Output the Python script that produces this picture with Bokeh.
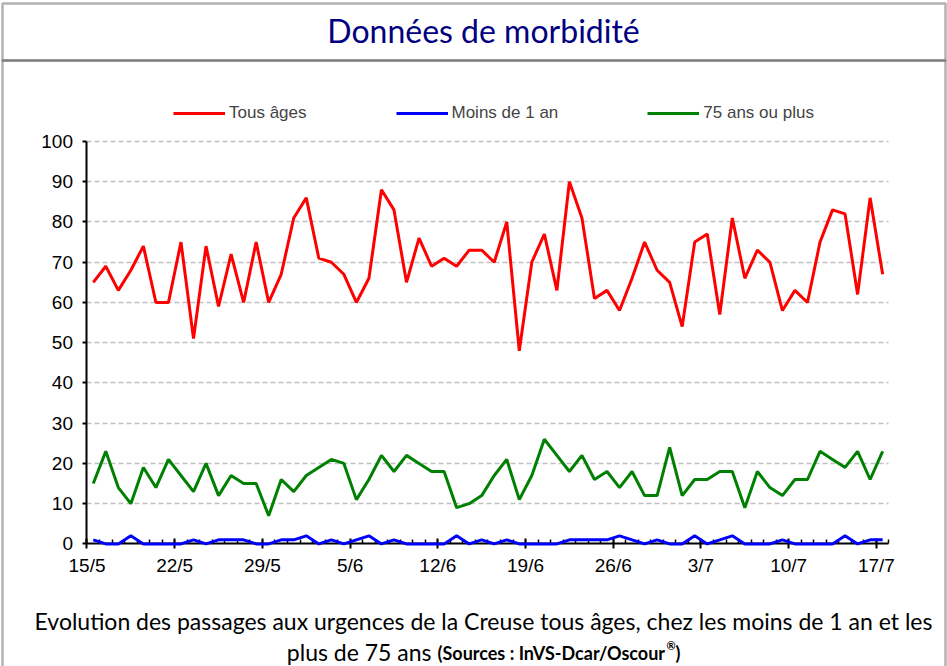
from bokeh.plotting import figure
from bokeh.embed import file_html
from bokeh.resources import INLINE
from bokeh.models import Range1d, FixedTicker, Legend, LegendItem, Label, BoxAnnotation

# ---- data (daily counts, 15/5 .. 17/7) ----
tous_ages = [65, 69, 63, 68, 74, 60, 60, 75, 51, 74, 59, 72, 60, 75, 60, 67,
             81, 86, 71, 70, 67, 60, 66, 88, 83, 65, 76, 69, 71, 69, 73, 73,
             70, 80, 48, 70, 77, 63, 90, 81, 61, 63, 58, 66, 75, 68, 65, 54,
             75, 77, 57, 81, 66, 73, 70, 58, 63, 60, 75, 83, 82, 62, 86, 67]
moins_1_an = [1, 0, 0, 2, 0, 0, 0, 0, 1, 0, 1, 1, 1, 0, 0, 1,
              1, 2, 0, 1, 0, 1, 2, 0, 1, 0, 0, 0, 0, 2, 0, 1,
              0, 1, 0, 0, 0, 0, 1, 1, 1, 1, 2, 1, 0, 1, 0, 0,
              2, 0, 1, 2, 0, 0, 0, 1, 0, 0, 0, 0, 2, 0, 1, 1]
plus_75_ans = [15, 23, 14, 10, 19, 14, 21, 17, 13, 20, 12, 17, 15, 15, 7, 16,
               13, 17, 19, 21, 20, 11, 16, 22, 18, 22, 20, 18, 18, 9, 10, 12,
               17, 21, 11, 17, 26, 22, 18, 22, 16, 18, 14, 18, 12, 12, 24, 12,
               16, 16, 18, 18, 9, 18, 14, 12, 16, 16, 23, 21, 19, 23, 16, 23]
tick_days = [0, 7, 14, 21, 28, 35, 42, 49, 56, 63]
tick_labels = ["15/5", "22/5", "29/5", "5/6", "12/6", "19/6", "26/6", "3/7", "10/7", "17/7"]
y_ticks = [0, 10, 20, 30, 40, 50, 60, 70, 80, 90, 100]
series_names = ["Tous âges", "Moins de 1 an", "75 ans ou plus"]

n = len(tous_ages)
xs = [i + 0.5 for i in range(n)]

W, H = 947, 666
# the frame covers the whole canvas; axes sit at fixed locations inside it
p = figure(width=W, height=H, output_backend="svg", toolbar_location=None,
           x_range=Range1d(-6.903, 68.675), y_range=Range1d(-30.47, 135.04),
           min_border=0, title=None)
p.outline_line_color = None
p.background_fill_color = "white"
p.border_fill_color = "white"

r1 = p.line(xs, tous_ages, line_color="#FF0000", line_width=3)
r2 = p.line(xs, moins_1_an, line_color="#0000FF", line_width=3)
r3 = p.line(xs, plus_75_ans, line_color="#008000", line_width=3)

# y axis
p.yaxis.fixed_location = 0
p.yaxis.bounds = (0, 100)
p.yaxis.ticker = FixedTicker(ticks=y_ticks)
p.yaxis.axis_line_width = 2
p.yaxis.axis_line_color = "black"
p.yaxis.major_tick_out = 4
p.yaxis.major_tick_in = 0
p.yaxis.major_tick_line_width = 2
p.yaxis.minor_tick_line_color = None
p.yaxis.major_label_text_font = "Liberation Sans"
p.yaxis.major_label_text_font_size = "19px"
p.yaxis.major_label_text_color = "black"
p.yaxis.major_label_standoff = 10

# x axis (drawn beneath the data lines, as in the original)
p.xaxis.fixed_location = 0
p.xaxis.bounds = (0, 64)
p.xaxis.level = "underlay"
p.xaxis.ticker = FixedTicker(ticks=tick_days, minor_ticks=list(range(0, 65)))
p.xaxis.major_label_overrides = {d: l for d, l in zip(tick_days, tick_labels)}
p.xaxis.axis_line_width = 2
p.xaxis.axis_line_color = "black"
p.xaxis.major_tick_out = 5
p.xaxis.major_tick_in = 5
p.xaxis.major_tick_line_width = 2
p.xaxis.minor_tick_in = 4
p.xaxis.minor_tick_out = 0
p.xaxis.minor_tick_line_width = 1.5
p.xaxis.minor_tick_line_color = "black"
p.xaxis.major_label_text_font = "Liberation Sans"
p.xaxis.major_label_text_font_size = "19px"
p.xaxis.major_label_text_color = "black"
p.xaxis.major_label_standoff = 6

p.xgrid.visible = False
p.ygrid.ticker = FixedTicker(ticks=y_ticks[1:])
p.ygrid.cross_bounds = (0, 64)
p.ygrid.grid_line_color = "#C0C0C0"
p.ygrid.grid_line_dash = "5 3"
p.ygrid.grid_line_width = 1.5

# legend (location = bottom-left corner, measured from the canvas bottom)
legend = Legend(items=[LegendItem(label=series_names[0], renderers=[r1]),
                       LegendItem(label=series_names[1], renderers=[r2]),
                       LegendItem(label=series_names[2], renderers=[r3])],
                orientation="horizontal", location=(173, 543),
                glyph_width=52, glyph_height=20, label_standoff=4, spacing=89,
                padding=0, margin=0, border_line_color=None,
                background_fill_alpha=0, label_text_font="Liberation Sans",
                label_text_font_size="17px", label_height=20)
p.add_layout(legend, "center")

# frame lines
p.add_layout(BoxAnnotation(left=2, right=945, top=3, bottom=60,
                           left_units="canvas", right_units="canvas",
                           top_units="canvas", bottom_units="canvas",
                           fill_alpha=0, line_color="black", line_width=2.5))
p.add_layout(BoxAnnotation(left=2, right=945, top=60, bottom=740,
                           left_units="canvas", right_units="canvas",
                           top_units="canvas", bottom_units="canvas",
                           fill_alpha=0, line_color="black", line_width=2.5))

# titles / captions
p.add_layout(Label(x=483, y=30, x_units="canvas", y_units="canvas",
                   text="Données de morbidité", text_align="center",
                   text_baseline="middle", text_font="Lato",
                   text_font_size="32px", text_color="#000080"))
p.add_layout(Label(x=483, y=620, x_units="canvas", y_units="canvas",
                   text="Evolution des passages aux urgences de la Creuse tous âges, chez les moins de 1 an et les",
                   text_align="center", text_baseline="middle", text_font="Lato",
                   text_font_size="23px", text_color="black"))
p.add_layout(Label(x=431, y=651, x_units="canvas", y_units="canvas",
                   text="plus de 75 ans", text_align="right",
                   text_baseline="middle", text_font="Lato",
                   text_font_size="23px", text_color="black"))
p.add_layout(Label(x=437, y=652.5, x_units="canvas", y_units="canvas",
                   text="(Sources : InVS-Dcar/Oscour", text_align="left",
                   text_baseline="middle", text_font="Lato", text_font_style="bold",
                   text_font_size="18px", text_color="black"))
p.add_layout(Label(x=666, y=645, x_units="canvas", y_units="canvas",
                   text="®", text_align="left",
                   text_baseline="middle", text_font="Lato", text_font_style="bold",
                   text_font_size="11px", text_color="black"))
p.add_layout(Label(x=675, y=652.5, x_units="canvas", y_units="canvas",
                   text=")", text_align="left",
                   text_baseline="middle", text_font="Lato", text_font_style="bold",
                   text_font_size="18px", text_color="black"))

open("out.html", "w").write(file_html(p, INLINE))
